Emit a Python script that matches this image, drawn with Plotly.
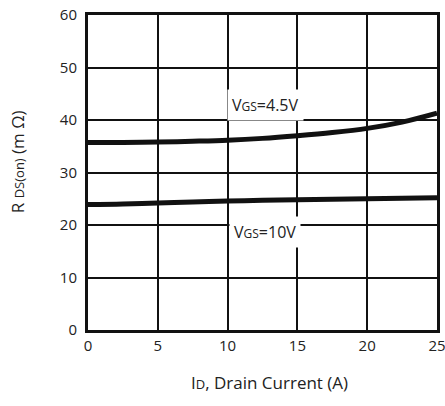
import plotly.graph_objects as go

current_a = [0, 2.5, 5, 7.5, 10, 12.5, 15, 17.5, 20, 22.5, 25]
rds_vgs45 = [35.7, 35.7, 35.8, 35.95, 36.15, 36.5, 37.0, 37.6, 38.4, 39.6, 41.3]
rds_vgs10 = [23.9, 24.0, 24.2, 24.4, 24.55, 24.7, 24.8, 24.9, 25.0, 25.1, 25.2]

x_ticks = [0, 5, 10, 15, 20, 25]
y_ticks = [0, 10, 20, 30, 40, 50, 60]

FONT = "Open Sans, Noto Sans, sans-serif"
TXT = "#222222"

fig = go.Figure()
fig.add_trace(go.Scatter(x=current_a, y=rds_vgs45, mode="lines",
                         line=dict(color="#111111", width=5, shape="spline"),
                         showlegend=False, hoverinfo="skip"))
fig.add_trace(go.Scatter(x=current_a, y=rds_vgs10, mode="lines",
                         line=dict(color="#111111", width=5, shape="spline"),
                         showlegend=False, hoverinfo="skip"))

fig.add_annotation(x=12.7, y=42.8, text="V<span style='font-size:12px'>GS</span>=4.5V",
                   showarrow=False, bgcolor="white", borderpad=4,
                   font=dict(family=FONT, size=16, color=TXT))
fig.add_annotation(x=12.7, y=18.6, text="V<span style='font-size:12px'>GS</span>=10V",
                   showarrow=False, bgcolor="white", borderpad=4,
                   font=dict(family=FONT, size=16, color=TXT))

# axis titles
fig.add_annotation(xref="paper", yref="paper", x=0.519, y=-0.168, yanchor="middle",
                   text="I<span style='font-size:13px'>D</span>, Drain Current (A)",
                   showarrow=False, font=dict(family=FONT, size=17, color=TXT))
fig.add_annotation(xref="paper", yref="paper", x=-0.203, y=0.533, xanchor="center",
                   yanchor="middle", textangle=-90,
                   text="R <span style='font-size:13px'>DS(on)</span> (m Ω)",
                   showarrow=False, font=dict(family=FONT, size=17, color=TXT))

common = dict(showgrid=True, gridcolor="#111111", gridwidth=2,
              showline=True, linecolor="#111111", linewidth=3, mirror=True,
              zeroline=False, ticks="", automargin=False, ticklabeloverflow="allow",
              tickfont=dict(family=FONT, size=15, color=TXT))
fig.update_xaxes(range=[0, 25], tickvals=x_ticks, ticktext=[str(v) for v in x_ticks], **common)
fig.update_yaxes(range=[0, 60], tickvals=y_ticks, ticktext=[str(v) for v in y_ticks],
                 ticklabelstandoff=5, **common)

fig.update_layout(width=445, height=406, plot_bgcolor="white", paper_bgcolor="white",
                  margin=dict(l=88, r=8, t=15, b=76, autoexpand=False))

fig.write_html("out.html", config={"displayModeBar": False},
               post_script="document.body.style.margin='0';document.body.style.overflow='hidden';")
